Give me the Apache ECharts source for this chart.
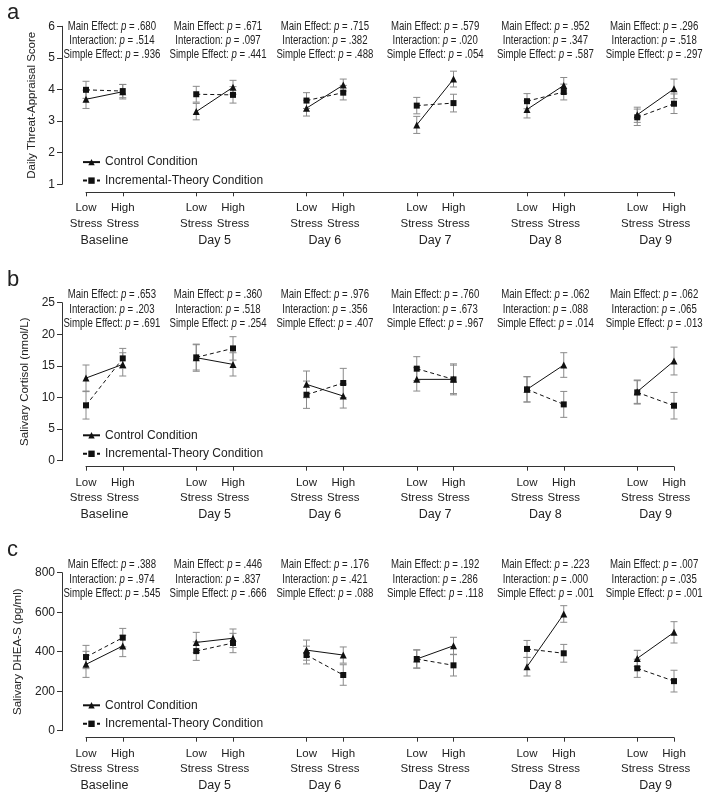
<!DOCTYPE html>
<html><head><meta charset="utf-8">
<script src="https://cdn.jsdelivr.net/npm/echarts@6/dist/echarts.min.js"></script>
<style>html,body{margin:0;padding:0;background:#fff}#c{width:703px;height:795px}</style>
</head><body><div id="c"></div>
<script>
const days = ['Baseline','Day 5','Day 6','Day 7','Day 8','Day 9'];
const stressLabels = ['Low\nStress','High\nStress'];
const conditions = ['Control Condition','Incremental-Theory Condition'];

// Panel a: Daily threat-appraisal score
const threatCtrlLow = [3.69,3.30,3.41,2.88,3.37,3.20];
const threatCtrlLowErr = [0.29,0.26,0.25,0.27,0.27,0.24];
const threatCtrlHigh = [3.93,4.07,4.14,4.33,4.13,4.02];
const threatCtrlHighErr = [0.23,0.22,0.19,0.25,0.25,0.31];
const threatIncLow = [3.99,3.85,3.65,3.49,3.63,3.12];
const threatIncLowErr = [0.27,0.25,0.25,0.26,0.24,0.26];
const threatIncHigh = [3.95,3.83,3.90,3.57,3.92,3.55];
const threatIncHighErr = [0.21,0.26,0.23,0.28,0.25,0.31];
const threatMain = ['.680','.671','.715','.579','.952','.296'];
const threatInter = ['.514','.097','.382','.020','.347','.518'];
const threatSimple = ['.936','.441','.488','.054','.587','.297'];

// Panel b: Salivary cortisol
const cortCtrlLow = [13.08,16.30,12.08,12.87,11.29,10.92];
const cortCtrlLowErr = [2.06,2.15,2.11,1.85,2.0,1.85];
const cortCtrlHigh = [15.24,15.24,10.23,12.87,15.14,15.77];
const cortCtrlHighErr = [1.84,1.84,1.90,2.45,1.95,2.2];
const cortIncLow = [8.76,16.35,10.44,14.56,11.29,10.81];
const cortIncLowErr = [2.17,2.0,2.16,1.9,2.0,1.85];
const cortIncHigh = [16.19,17.77,12.29,12.87,8.91,8.70];
const cortIncHighErr = [1.58,1.85,2.32,2.25,2.05,2.1];
const cortMain = ['.653','.360','.976','.760','.062','.062'];
const cortInter = ['.203','.518','.356','.673','.088','.065'];
const cortSimple = ['.691','.254','.407','.967','.014','.013'];

// Panel c: Salivary DHEA-S
const dheaCtrlLow = [336,447,408,363,324,366];
const dheaCtrlLowErr = [66,51,51,45,47,41];
const dheaCtrlHigh = [429,468,383,430,591,498];
const dheaCtrlHighErr = [54,47,41,43,42,54];
const dheaIncLow = [373,403,383,363,414,316];
const dheaIncLowErr = [59,47,45,47,43,46];
const dheaIncHigh = [471,444,282,331,392,251];
const dheaIncHighErr = [47,49,52,54,45,55];
const dheaMain = ['.388','.446','.176','.192','.223','.007'];
const dheaInter = ['.974','.837','.421','.286','.000','.035'];
const dheaSimple = ['.545','.666','.088','.118','.001','.001'];

const FONT = "'Liberation Sans',Arial,sans-serif";
const TXT = '#222';
const annNudge = [7.5, 3.4, 0, 0, 0, -1.5];   // horizontal pixel nudges of the p-value text blocks

const panels = [
  {letter:'a', yName:'Daily Threat-Appraisal Score', min:1, max:6, interval:1, top:26.3, xOff:8, nameGap:23, annOff:0, legOff:123.8,
   cl:threatCtrlLow, cle:threatCtrlLowErr, ch:threatCtrlHigh, che:threatCtrlHighErr,
   il:threatIncLow, ile:threatIncLowErr, ih:threatIncHigh, ihe:threatIncHighErr,
   main:threatMain, inter:threatInter, simple:threatSimple, letterTop:-3},
  {letter:'b', yName:'Salivary Cortisol (nmol/L)', min:0, max:25, interval:5, top:302.7, xOff:6, nameGap:28.5, annOff:-7.7, legOff:120.6,
   cl:cortCtrlLow, cle:cortCtrlLowErr, ch:cortCtrlHigh, che:cortCtrlHighErr,
   il:cortIncLow, ile:cortIncLowErr, ih:cortIncHigh, ihe:cortIncHighErr,
   main:cortMain, inter:cortInter, simple:cortSimple, letterTop:264},
  {letter:'c', yName:'Salivary DHEA-S (pg/ml)', min:0, max:800, interval:200, top:572.7, xOff:7, nameGap:32, annOff:-7.7, legOff:120.6,
   cl:dheaCtrlLow, cle:dheaCtrlLowErr, ch:dheaCtrlHigh, che:dheaCtrlHighErr,
   il:dheaIncLow, ile:dheaIncLowErr, ih:dheaIncHigh, ihe:dheaIncHighErr,
   main:dheaMain, inter:dheaInter, simple:dheaSimple, letterTop:534}
];

const tickVals = [], groupVals = [];
days.forEach((d,g)=>{ tickVals.push(g*3, g*3+1); groupVals.push(g*3+0.5); });

function lineData(low, high){
  const out = [];
  days.forEach((d,g)=>{ out.push([g*3, low[g]], [g*3+1, high[g]], [g*3+1.5, null]); });
  return out;
}
function errData(low, lowE, high, highE){
  const out = [];
  days.forEach((d,g)=>{ out.push([g*3, low[g], lowE[g]], [g*3+1, high[g], highE[g]]); });
  return out;
}
function errRender(params, api){
  const x = api.value(0), m = api.value(1), e = api.value(2);
  const t = api.coord([x, m+e]), b = api.coord([x, m-e]);
  const w = 3.5, st = {stroke:'#8a8a8a', lineWidth:1};
  return {type:'group', children:[
    {type:'line', shape:{x1:t[0],y1:t[1],x2:b[0],y2:b[1]}, style:st},
    {type:'line', shape:{x1:t[0]-w,y1:t[1],x2:t[0]+w,y2:t[1]}, style:st},
    {type:'line', shape:{x1:b[0]-w,y1:b[1],x2:b[0]+w,y2:b[1]}, style:st}
  ]};
}

const option = {animation:false, backgroundColor:'#fff', title:[], grid:[], xAxis:[], yAxis:[], legend:[], series:[]};

panels.forEach((p,i)=>{
  option.title.push({text:p.letter, left:2, top:p.letterTop, textStyle:{fontFamily:FONT, fontSize:22, fontWeight:'normal', color:TXT}});
  option.grid.push({left:86, right:29, top:p.top, height:158});
  // stress-level axis
  option.xAxis.push({gridIndex:i, type:'value', min:0, max:16, offset:p.xOff, position:'bottom',
    splitLine:{show:false},
    axisLine:{show:true, onZero:false, lineStyle:{color:'#333', width:1}},
    axisTick:{show:true, customValues:tickVals, length:4, lineStyle:{color:'#333'}},
    axisLabel:{customValues:tickVals, margin:8, color:TXT, fontFamily:FONT, fontSize:11.5, lineHeight:15.5,
      formatter:function(v){ return stressLabels[Math.round(v) % 3]; }}
  });
  // day-group axis
  option.xAxis.push({gridIndex:i, type:'value', min:0, max:16, offset:p.xOff, position:'bottom',
    splitLine:{show:false}, axisLine:{show:false, onZero:false}, axisTick:{show:false},
    axisLabel:{customValues:groupVals, margin:41, color:TXT, fontFamily:FONT, fontSize:12.5, lineHeight:14,
      formatter:function(v){ return days[Math.floor(v/3)]; }}
  });
  option.yAxis.push({gridIndex:i, type:'value', min:p.min, max:p.max, interval:p.interval, offset:24,
    name:p.yName, nameLocation:'middle', nameGap:p.nameGap,
    nameTextStyle:{fontFamily:FONT, fontSize:11.5, color:TXT},
    splitLine:{show:false},
    axisLine:{show:true, onZero:false, lineStyle:{color:'#333'}},
    axisTick:{show:true, length:5, lineStyle:{color:'#333'}},
    axisLabel:{margin:7, fontFamily:FONT, fontSize:12, color:TXT}
  });
  option.legend.push({data:conditions, orient:'vertical', left:77, top:p.top+p.legOff, itemWidth:17, itemHeight:8, itemGap:4.5,
    textStyle:{fontFamily:FONT, fontSize:12, color:TXT, lineHeight:14}, selectedMode:false});

  const xi = i*2;
  option.series.push(
    {type:'custom', xAxisIndex:xi, yAxisIndex:i, renderItem:errRender, data:errData(p.cl,p.cle,p.ch,p.che), silent:true, z:1},
    {type:'custom', xAxisIndex:xi, yAxisIndex:i, renderItem:errRender, data:errData(p.il,p.ile,p.ih,p.ihe), silent:true, z:1},
    {type:'line', name:conditions[0], xAxisIndex:xi, yAxisIndex:i, data:lineData(p.cl,p.ch), connectNulls:false,
      symbol:'triangle', symbolSize:7, showAllSymbol:true, color:'#111',
      itemStyle:{color:'#111'}, lineStyle:{color:'#111', width:1, type:'solid'}, z:3},
    {type:'line', name:conditions[1], xAxisIndex:xi, yAxisIndex:i, data:lineData(p.il,p.ih), connectNulls:false,
      symbol:'rect', symbolSize:6, showAllSymbol:true, color:'#111',
      itemStyle:{color:'#111'}, lineStyle:{color:'#111', width:1, type:[4,3]}, z:3},
    {type:'custom', xAxisIndex:xi, yAxisIndex:i, silent:true, z:4, clip:false,
      data: days.map((d,g)=>[g*3+0.5, p.max, g]),
      renderItem:function(params, api){
        const g = api.value(2);
        const pt = api.coord([api.value(0), api.value(1)]);
        const rows = [['Main Effect: ', p.main[g]], ['Interaction: ', p.inter[g]], ['Simple Effect: ', p.simple[g]]];
        return {type:'group', children: rows.map((r,k)=>({type:'text',
          x:pt[0] + annNudge[g], y:pt[1] + p.annOff + k*14.3, scaleX:0.77, scaleY:1,
          style:{
          text:'{n|' + r[0] + '}{i|p}{n| = ' + r[1] + '}',
          x:0, y:0, align:'center', verticalAlign:'middle',
          rich:{n:{fontFamily:FONT, fontSize:12.5, fill:TXT}, i:{fontFamily:FONT, fontSize:12.5, fontStyle:'italic', fill:TXT}}
        }}))};
      }}
  );
});

const chart = echarts.init(document.getElementById('c'), null, {renderer:'canvas'});
chart.setOption(option);
</script></body></html>
